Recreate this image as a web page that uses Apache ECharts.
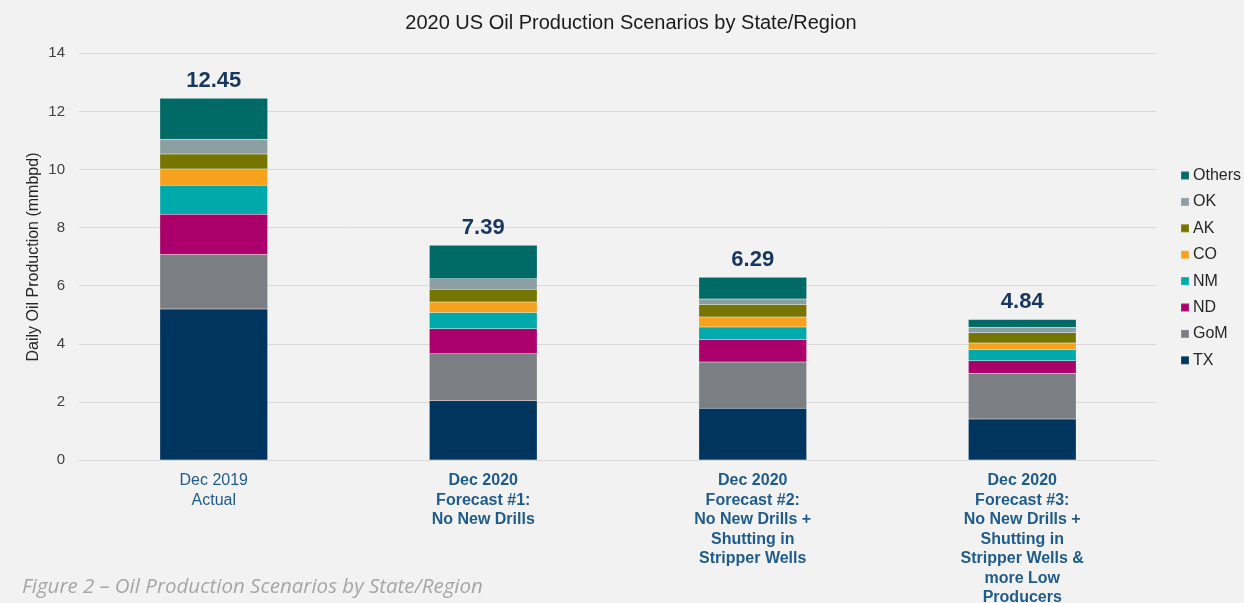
<!DOCTYPE html>
<html><head><meta charset="utf-8">
<script src="https://cdn.jsdelivr.net/npm/echarts@6/dist/echarts.min.js"></script>
<style>html,body{margin:0;padding:0;background:#f2f2f2}#c{width:1244px;height:603px}</style>
</head><body><div id="c"></div>
<script>
const categories = ['Dec 2019\nActual', 'Dec 2020\nForecast #1:\nNo New Drills', 'Dec 2020\nForecast #2:\nNo New Drills +\nShutting in\nStripper Wells', 'Dec 2020\nForecast #3:\nNo New Drills +\nShutting in\nStripper Wells &\nmore Low\nProducers'];
const TX = [5.20, 2.04, 1.78, 1.41];
const GoM = [1.87, 1.62, 1.59, 1.58];
const ND = [1.39, 0.86, 0.78, 0.43];
const NM = [1.00, 0.56, 0.43, 0.38];
const CO = [0.56, 0.36, 0.34, 0.23];
const AK = [0.51, 0.44, 0.43, 0.35];
const OK = [0.51, 0.36, 0.19, 0.19];
const Others = [1.41, 1.15, 0.75, 0.27];
const totals = [12.45, 7.39, 6.29, 4.84];
const yTicks = [0, 2, 4, 6, 8, 10, 12, 14];

const FF = "'Liberation Sans', Arial, sans-serif";
const seriesDefs = [
  ['TX', TX, '#00355f'],
  ['GoM', GoM, '#7b7f83'],
  ['ND', ND, '#ab006c'],
  ['NM', NM, '#00aaaa'],
  ['CO', CO, '#f7a21f'],
  ['AK', AK, '#757500'],
  ['OK', OK, '#8c9ea2'],
  ['Others', Others, '#006a66']
];

const chart = echarts.init(document.getElementById('c'));
const series = seriesDefs.map(([name, data, color], i) => {
  const s = {
    name, type: 'bar', stack: 'total', data, barWidth: '40%',
    itemStyle: { color, borderColor: 'rgba(255,255,255,0.12)', borderWidth: 0.5 },
    emphasis: { disabled: true }
  };
  if (name === 'Others') {
    s.label = {
      show: true, position: 'top', distance: 6,
      formatter: p => totals[p.dataIndex].toFixed(2),
      fontFamily: FF, fontSize: 22, fontWeight: 'bold', color: '#17375e'
    };
  }
  return s;
});

chart.setOption({
  backgroundColor: '#f2f2f2',
  animation: false,
  title: {
    text: '2020 US Oil Production Scenarios by State/Region',
    left: 631, top: 13, textAlign: 'center', padding: 0,
    textStyle: { fontFamily: FF, fontSize: 20, fontWeight: 'normal', color: '#1a1a1a' }
  },
  grid: { left: 79, right: 87, top: 53.3, bottom: 143, outerBoundsMode: 'none', containLabel: false },
  legend: {
    orient: 'vertical', left: 1180, top: 167.5, padding: 0,
    data: ['Others', 'OK', 'AK', 'CO', 'NM', 'ND', 'GoM', 'TX'],
    icon: 'rect', itemWidth: 8, itemHeight: 8, itemGap: 10.4,
    textStyle: { fontFamily: FF, fontSize: 16, color: '#262626', padding: [0, 0, 0, -1] }
  },
  xAxis: {
    type: 'category', data: categories,
    axisLine: { show: true, lineStyle: { color: '#d9d9d9' } },
    axisTick: { show: false },
    axisLabel: {
      interval: 0, margin: 11,
      formatter: (v, i) => v.split('\n').map(l => i === 0 ? '{n|' + l + '}' : '{b|' + l + '}').join('\n'),
      rich: {
        n: { fontFamily: FF, fontSize: 16, color: '#1f5c8c', lineHeight: 19.5 },
        b: { fontFamily: FF, fontSize: 16, fontWeight: 'bold', color: '#1f5c8c', lineHeight: 19.5 }
      }
    }
  },
  yAxis: {
    type: 'value', min: yTicks[0], max: yTicks[yTicks.length - 1], interval: 2,
    axisLine: { show: false }, axisTick: { show: false },
    splitLine: { lineStyle: { color: '#d9d9d9', width: 1 } },
    axisLabel: { margin: 14, fontFamily: FF, fontSize: 15, color: '#404040' }
  },
  graphic: [
    {
      type: 'text', x: 34, y: 257, rotation: Math.PI / 2,
      style: { text: 'Daily Oil Production (mmbpd)', fill: '#262626', font: "16px 'Liberation Sans', Arial, sans-serif", textAlign: 'center', textVerticalAlign: 'middle' }
    },
    {
      type: 'text', left: 22, top: 577,
      style: { text: 'Figure 2 – Oil Production Scenarios by State/Region', fill: '#a6a6a6', font: "italic 20.5px 'Open Sans', 'DejaVu Sans', sans-serif" }
    }
  ],
  series
});
</script></body></html>
